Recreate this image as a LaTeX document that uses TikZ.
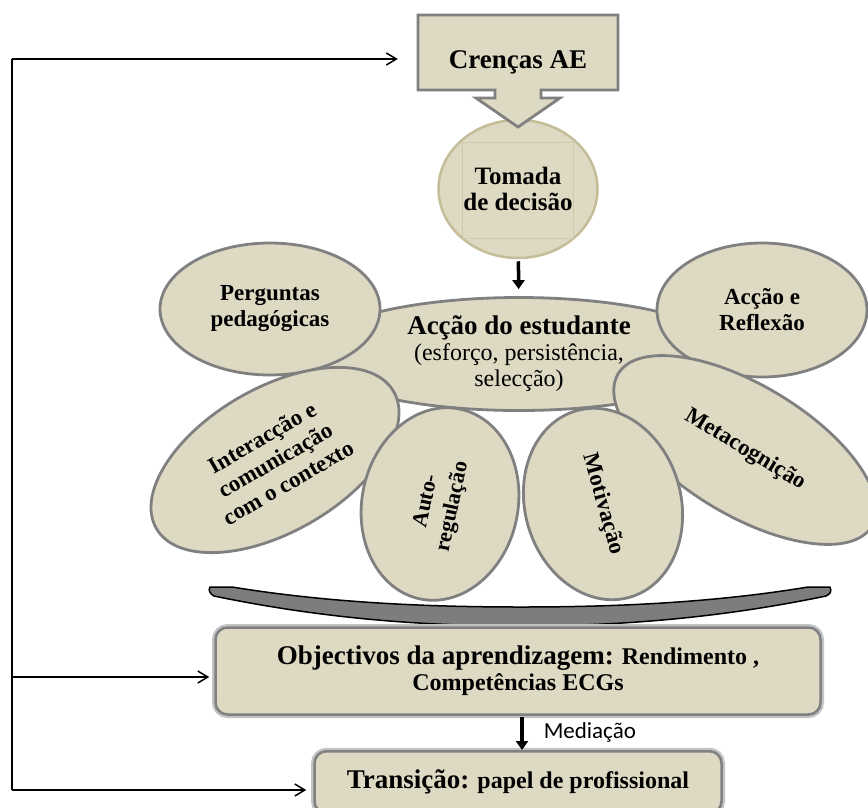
\documentclass[tikz,border=0pt]{standalone}
\usepackage{fontspec}
\setmainfont{Liberation Serif}
\newfontfamily\calibrifont{Carlito}
\usetikzlibrary{shapes.geometric,arrows.meta}

\definecolor{beige}{RGB}{221,217,195}
\definecolor{edgegray}{RGB}{128,128,128}
\definecolor{tanline}{RGB}{196,189,151}
\definecolor{halo}{RGB}{195,195,195}
\definecolor{bowlgray}{RGB}{125,125,125}

\begin{document}
\begin{tikzpicture}[x=1pt, y=-1pt,
    bubble/.style={ellipse, draw=edgegray, line width=2.8pt, fill=beige, inner sep=0pt, align=center, font=\bfseries\fontsize{23}{26}\selectfont},
    panel/.style={draw=edgegray, line width=2.5pt, fill=beige, rounded corners=12pt, preaction={draw=halo, line width=7pt}, align=center, font=\bfseries\fontsize{24}{26}\selectfont},
    fbarrow/.style={line width=1.5pt, -{Straight Barb[length=10pt,width=12pt]}},
    blackarrow/.style={line width=3.5pt, -{Triangle[length=9pt,width=12pt]}}]
    \useasboundingbox (0,0) rectangle (868,807);

    % decision circle and beliefs callout
    \node[ellipse, draw=tanline, line width=2.5pt, fill=beige, minimum width=159pt, minimum height=138pt, inner sep=0pt, align=center, font=\bfseries\fontsize{25}{26}\selectfont] (tomada) at (518,189) {Tomada\\de decisão};
    \draw[tanline!80, line width=0.8pt] (462,142) rectangle (573,238);
    \draw[draw=edgegray, line width=2.8pt, fill=beige] (418,15) -- (618,15) -- (618,90) -- (541,90) -- (541,98) -- (560,98) -- (518,127) -- (476,98) -- (495,98) -- (495,90) -- (418,90) -- cycle;
    \node[font=\bfseries\fontsize{27}{28}\selectfont, minimum width=200pt, text depth=0pt] (crencas) at (518,60) {Crenças AE};

    % bowl
    \draw[line width=1.5pt, fill=bowlgray] (210,587) -- (232,587) .. controls (330,603) and (430,607) .. (521,607) .. controls (612,607) and (712,603) .. (808,587) -- (830,587) .. controls (832,592) and (830,594) .. (826,596) .. controls (720,618) and (620,626) .. (521,626) .. controls (420,626) and (320,618) .. (214,596) .. controls (210,594) and (208,590) .. (210,587) -- cycle;

    % petals
    \node[bubble, minimum width=420pt, minimum height=113pt, font=\fontsize{24}{26}\selectfont] (accao) at (519,354) {{\bfseries\fontsize{27}{28}\selectfont Acção do estudante}\\(esforço, persistência,\\selecção)};
    \node[bubble, minimum width=220pt, minimum height=132pt] (perguntas) at (270,309) {Perguntas\\pedagógicas};
    \node[bubble, minimum width=210pt, minimum height=134pt] (reflexao) at (762,310) {Acção e\\Reflexão};
    \node[bubble, minimum width=274pt, minimum height=144pt, rotate=30] (interaccao) at (275,460) {Interacção e\\comunicação\\com o contexto};
    \node[bubble, minimum width=296pt, minimum height=130pt, rotate=-31] (metacog) at (745,450) {Metacognição};
    \node[bubble, minimum width=194pt, minimum height=156pt, rotate=78, font=\bfseries\fontsize{22}{27}\selectfont] (auto) at (440,504) {Auto-\\regulação};
    \node[bubble, minimum width=194pt, minimum height=156pt, rotate=-74] (motivacao) at (603,504) {Motivação};

    \draw[blackarrow, shorten <=2pt, shorten >=7pt] (tomada) -- (accao);

    % outcomes
    \node[panel, minimum width=605pt, minimum height=87pt] (objectivos) at (518,671) {{\fontsize{27}{28}\selectfont Objectivos da aprendizagem:} Rendimento ,\\Competências ECGs};
    \node[panel, minimum width=407pt, minimum height=62pt, anchor=north] (transicao) at (518,750) {{\fontsize{27}{28}\selectfont Transição:} papel de profissional};
    \draw[blackarrow, shorten <=1pt] (objectivos.south -| 522,0) -- (transicao.north -| 522,0) node[midway, right=20pt, inner sep=0pt, font=\calibrifont\fontsize{23}{25}\selectfont] {Mediação};

    % feedback line
    \coordinate (fbtop) at (12,59);
    \coordinate (fbmid) at (12,677);
    \coordinate (fbbot) at (12,790);
    \draw[line width=1.5pt] (fbtop) -- (fbbot);
    \draw[fbarrow, shorten >=20pt] (fbtop) -- (fbtop -| crencas.west);
    \draw[fbarrow, shorten >=5pt] (fbmid) -- (fbmid -| objectivos.west);
    \draw[fbarrow, shorten >=7pt] (fbbot) -- (fbbot -| transicao.west);
\end{tikzpicture}
\end{document}
